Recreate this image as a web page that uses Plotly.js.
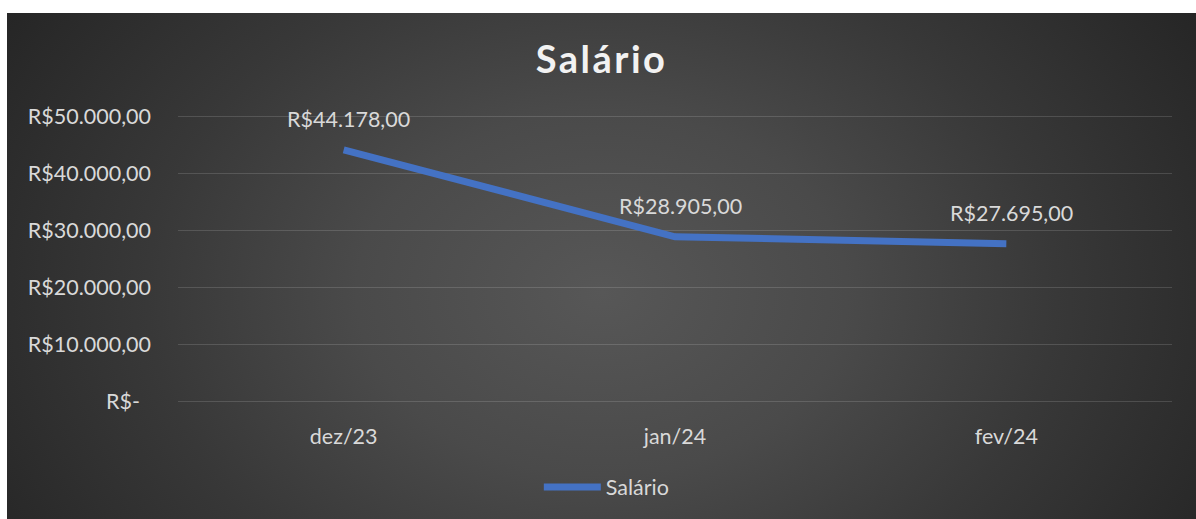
<!DOCTYPE html>
<html>
<head>
<meta charset="utf-8">
<script src="https://cdn.plot.ly/plotly-3.0.1.min.js"></script>
<style>
html,body{margin:0;padding:0;background:#ffffff;}
#wrap{position:absolute;left:0;top:0;width:1196px;height:519px;}
#bg{position:absolute;left:7px;top:13px;width:1189px;height:506px;
  background:radial-gradient(ellipse 700px 520px at 595px 280px,#575757 0%,#4a4a4a 35%,#383838 65%,#262626 100%);}
#chart{position:absolute;left:0;top:0;width:1196px;height:519px;}
.gtitle{letter-spacing:2.5px;}
</style>
</head>
<body>
<div id="wrap"><div id="bg"></div><div id="chart"></div></div>
<script>
const categories = ['dez/23', 'jan/24', 'fev/24'];
const salario = [44178, 28905, 27695];
const valueLabels = ['R$44.178,00', 'R$28.905,00', 'R$27.695,00'];
const yTickVals = [0, 10000, 20000, 30000, 40000, 50000];
const yTickText = ['R$-\u00a0\u00a0', 'R$10.000,00', 'R$20.000,00', 'R$30.000,00', 'R$40.000,00', 'R$50.000,00'];

const font = 'Lato, "Open Sans", sans-serif';
const fs = 21.5;
const trace = {
  x: categories,
  y: salario,
  type: 'scatter',
  mode: 'lines',
  name: 'Salário',
  line: {color: '#4472C4', width: 7},
  hoverinfo: 'skip'
};

const annotations = categories.map((c, i) => ({
  x: c, y: salario[i], xref: 'x', yref: 'y',
  text: valueLabels[i], showarrow: false,
  yshift: 31, xshift: 5,
  font: {family: font, size: fs, color: '#d9d9d9'}
}));

const layout = {
  width: 1196, height: 519,
  paper_bgcolor: 'rgba(0,0,0,0)',
  plot_bgcolor: 'rgba(0,0,0,0)',
  margin: {l: 178, r: 24, t: 111, b: 108},
  title: {text: '<b>Salário</b>', x: 0.503, xanchor: 'center', y: 0.885, yanchor: 'middle',
    font: {family: font, size: 38, color: '#f2f2f2'}},
  font: {family: font, size: fs, color: '#d9d9d9'},
  xaxis: {
    type: 'category', range: [-0.5, 2.5],
    showgrid: false, zeroline: false, showline: false,
    ticks: '', ticklabelstandoff: 14,
    tickfont: {family: font, size: fs, color: '#d9d9d9'}
  },
  yaxis: {
    range: [-1000, 51000], tickvals: yTickVals, ticktext: yTickText,
    showgrid: true, gridcolor: 'rgba(255,255,255,0.14)', gridwidth: 1.5,
    zeroline: false, showline: false, ticks: '', ticklabelstandoff: 26,
    tickfont: {family: font, size: fs, color: '#d9d9d9'}
  },
  showlegend: true,
  legend: {orientation: 'h', x: 0.363, xanchor: 'left', y: -0.27, yanchor: 'middle',
    font: {family: font, size: fs, color: '#d9d9d9'}, bgcolor: 'rgba(0,0,0,0)', itemwidth: 57},
  annotations: annotations
};

Plotly.newPlot('chart', [trace], layout, {displayModeBar: false, staticPlot: true});
</script>
</body>
</html>
